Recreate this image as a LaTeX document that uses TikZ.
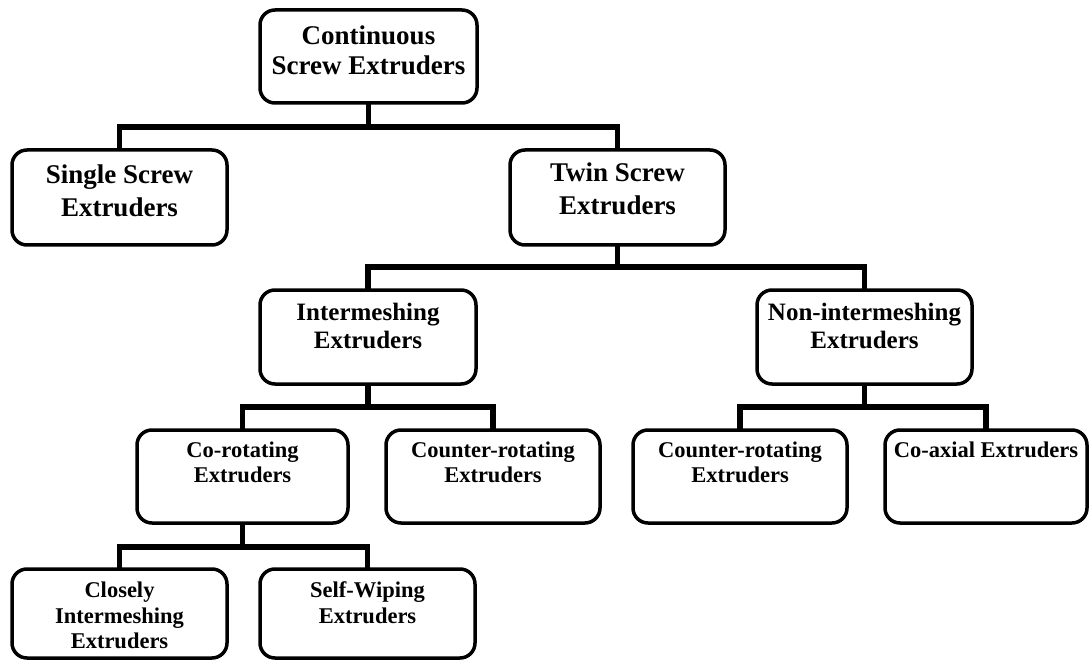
\documentclass[tikz,border=0pt]{standalone}
\usepackage{fontspec}
\setmainfont{Liberation Serif}
% box text: height, width, top gap, lines
\newcommand{\extext}[4]{\parbox[c][#1pt][t]{#2pt}{\centering\vspace*{#3pt}#4}}
\tikzset{
  extbox/.style={draw, line width=3.5pt, rounded corners=15pt, inner sep=0pt, outer sep=0pt},
  bus/.style={line width=5.5pt},
  rootfont/.style={font=\fontsize{27}{30}\selectfont\bfseries},
  onefont/.style={font=\fontsize{27}{33}\selectfont\bfseries},
  twofont/.style={font=\fontsize{25}{28}\selectfont\bfseries},
  threefont/.style={font=\fontsize{22.5}{25}\selectfont\bfseries},
  fourfont/.style={font=\fontsize{22.5}{25.5}\selectfont\bfseries},
}
\begin{document}
\begin{tikzpicture}[x=1pt, y=-1pt]
\useasboundingbox (0,0) rectangle (1089,660);

% Boxes of the tree
\node [extbox, rootfont] (root) at (368.5,56.5) {\extext{93}{217}{16}{Continuous\\Screw Extruders}};
\node [extbox, onefont] (single) at (119.5,197.5) {\extext{95}{215}{15}{Single Screw\\Extruders}};
\node [extbox, onefont] (twin) at (617.5,197.5) {\extext{95}{215}{13}{Twin Screw\\Extruders}};
\node [extbox, twofont] (inter) at (368,337) {\extext{94}{216}{13}{Intermeshing\\Extruders}};
\node [extbox, twofont] (noninter) at (864.5,337) {\extext{94}{215}{13}{Non-intermeshing\\Extruders}};
\node [extbox, threefont] (corot) at (242.5,476.5) {\extext{93}{211}{12}{Co-rotating\\Extruders}};
\node [extbox, threefont] (counterl) at (493,476.5) {\extext{93}{214}{12}{Counter-rotating\\Extruders}};
\node [extbox, threefont] (counterr) at (740,476.5) {\extext{93}{214}{12}{Counter-rotating\\Extruders}};
\node [extbox, threefont] (coaxial) at (986,476.5) {\extext{93}{202}{12}{Co-axial Extruders}};
\node [extbox, fourfont] (closely) at (119.5,613.5) {\extext{89}{215}{13}{Closely\\Intermeshing\\Extruders}};
\node [extbox, fourfont] (selfwipe) at (367.5,613.5) {\extext{89}{215}{13}{Self-Wiping\\Extruders}};

% Bus points
\coordinate (bus1) at (368.5,127);
\coordinate (bus2) at (617.5,267);
\coordinate (bus3) at (368,407);
\coordinate (bus4) at (864.5,407);
\coordinate (bus5) at (242.5,547);

% Connectors
\draw [bus] (root.south) -- (bus1);
\draw [bus] (single.north) |- (bus1) -| (twin.north);
\draw [bus] (twin.south) -- (bus2);
\draw [bus] (inter.north) |- (bus2) -| (noninter.north);
\draw [bus] (inter.south) -- (bus3);
\draw [bus] (corot.north) |- (bus3) -| (counterl.north);
\draw [bus] (noninter.south) -- (bus4);
\draw [bus] (counterr.north) |- (bus4) -| (coaxial.north);
\draw [bus] (corot.south) -- (bus5);
\draw [bus] (closely.north) |- (bus5) -| (selfwipe.north);
\end{tikzpicture}
\end{document}
